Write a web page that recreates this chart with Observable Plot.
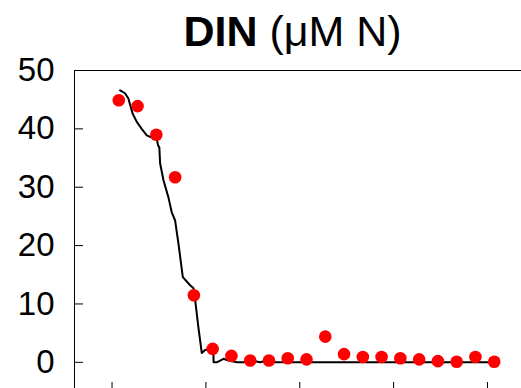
<!DOCTYPE html>
<html>
<head>
<meta charset="utf-8">
<script src="https://cdn.jsdelivr.net/npm/d3@7"></script>
<script src="https://cdn.jsdelivr.net/npm/@observablehq/plot@0.6"></script>
<style>
  body { margin: 0; background: white; }
  #chart { position: relative; width: 521px; height: 388px; overflow: hidden; background: white;
           font-family: "Liberation Sans", Arial, sans-serif; color: black; }
  #title { width: 585px; height: 60px; box-sizing: border-box; padding-top: 10px;
           text-align: center; font-size: 43px; line-height: 43px; white-space: nowrap; }
</style>
</head>
<body>
<div id="chart">
  <div id="title"><b>DIN</b> (μM N)</div>
  <div id="plot"></div>
</div>
<script>
// Observed DIN concentrations (μM N) at each sampling position
const sampleX = [0.36, 1.36, 2.36, 3.36, 4.36, 5.36, 6.36, 7.36, 8.36, 9.36, 10.36,
                 11.36, 12.36, 13.36, 14.36, 15.36, 16.36, 17.36, 18.36, 19.36, 20.36];
const sampleDIN = [44.9, 43.9, 39.0, 31.7, 11.5, 2.3, 1.1, 0.3, 0.3, 0.7, 0.5,
                   4.4, 1.4, 0.9, 0.9, 0.7, 0.5, 0.2, 0.1, 0.9, 0.1];

// Modelled DIN profile
const modelX = [0.43, 0.69, 0.87, 1.0, 1.1, 1.32, 1.58, 1.85, 2.12, 2.38, 2.45, 2.52, 2.56,
                2.74, 3.0, 3.18, 3.36, 3.54, 3.77, 4.16, 4.34, 4.43, 4.6, 4.78, 4.96, 5.23,
                5.4, 5.41, 5.58, 5.94, 6.2, 6.65, 7.0, 7.45, 7.89, 8.25, 8.7, 20.36];
const modelDIN = [46.6, 46.1, 45.2, 43.7, 42.6, 41.2, 40.0, 38.9, 38.5, 38.3, 37.2, 36.8, 34.1,
                  31.2, 28.3, 25.7, 24.3, 20.3, 14.6, 13.2, 12.7, 10.6, 6.0, 1.6, 2.1, 2.3,
                  1.5, 0.0, 0.0, 0.6, 0.3, 0.0, 0.0, 0.3, 0.0, 0.3, 0.0, 0.0];

// Axis ticks
const xTicks = [0, 5, 10, 15, 20];
const yTicks = [0, 10, 20, 30, 40, 50];
const xDomain = [-2, 22];
const yDomain = [-5, 50];

const samples = sampleX.map((x, i) => ({x, din: sampleDIN[i]}));
const model = modelX.map((x, i) => ({x, din: modelDIN[i]}));

const chart = Plot.plot({
  width: 521,
  height: 328,
  marginTop: 10,
  marginLeft: 74,
  marginRight: -3.5,
  marginBottom: -3,
  style: {fontFamily: "'Liberation Sans', Arial, sans-serif", color: "black", background: "white", overflow: "visible"},
  x: {domain: xDomain},
  y: {domain: yDomain},
  marks: [
    Plot.frame({stroke: "black", strokeWidth: 1}),
    // inward tick marks
    Plot.axisY({ticks: yTicks, tickSize: 9, insetLeft: 9, fill: "none", stroke: "black", label: null}),
    Plot.axisX({ticks: xTicks, tickSize: 9, insetBottom: 9, fill: "none", stroke: "black", label: null}),
    // y tick labels
    Plot.axisY({ticks: yTicks, tickSize: 0, tickPadding: 20, stroke: "none", fill: "black", fontSize: 33, label: null}),
    Plot.line(model, {x: "x", y: "din", stroke: "black", strokeWidth: 2}),
    Plot.dot(samples, {x: "x", y: "din", r: 6.3, fill: "#ff0000", stroke: "none"})
  ]
});
document.getElementById("plot").append(chart);
</script>
</body>
</html>
